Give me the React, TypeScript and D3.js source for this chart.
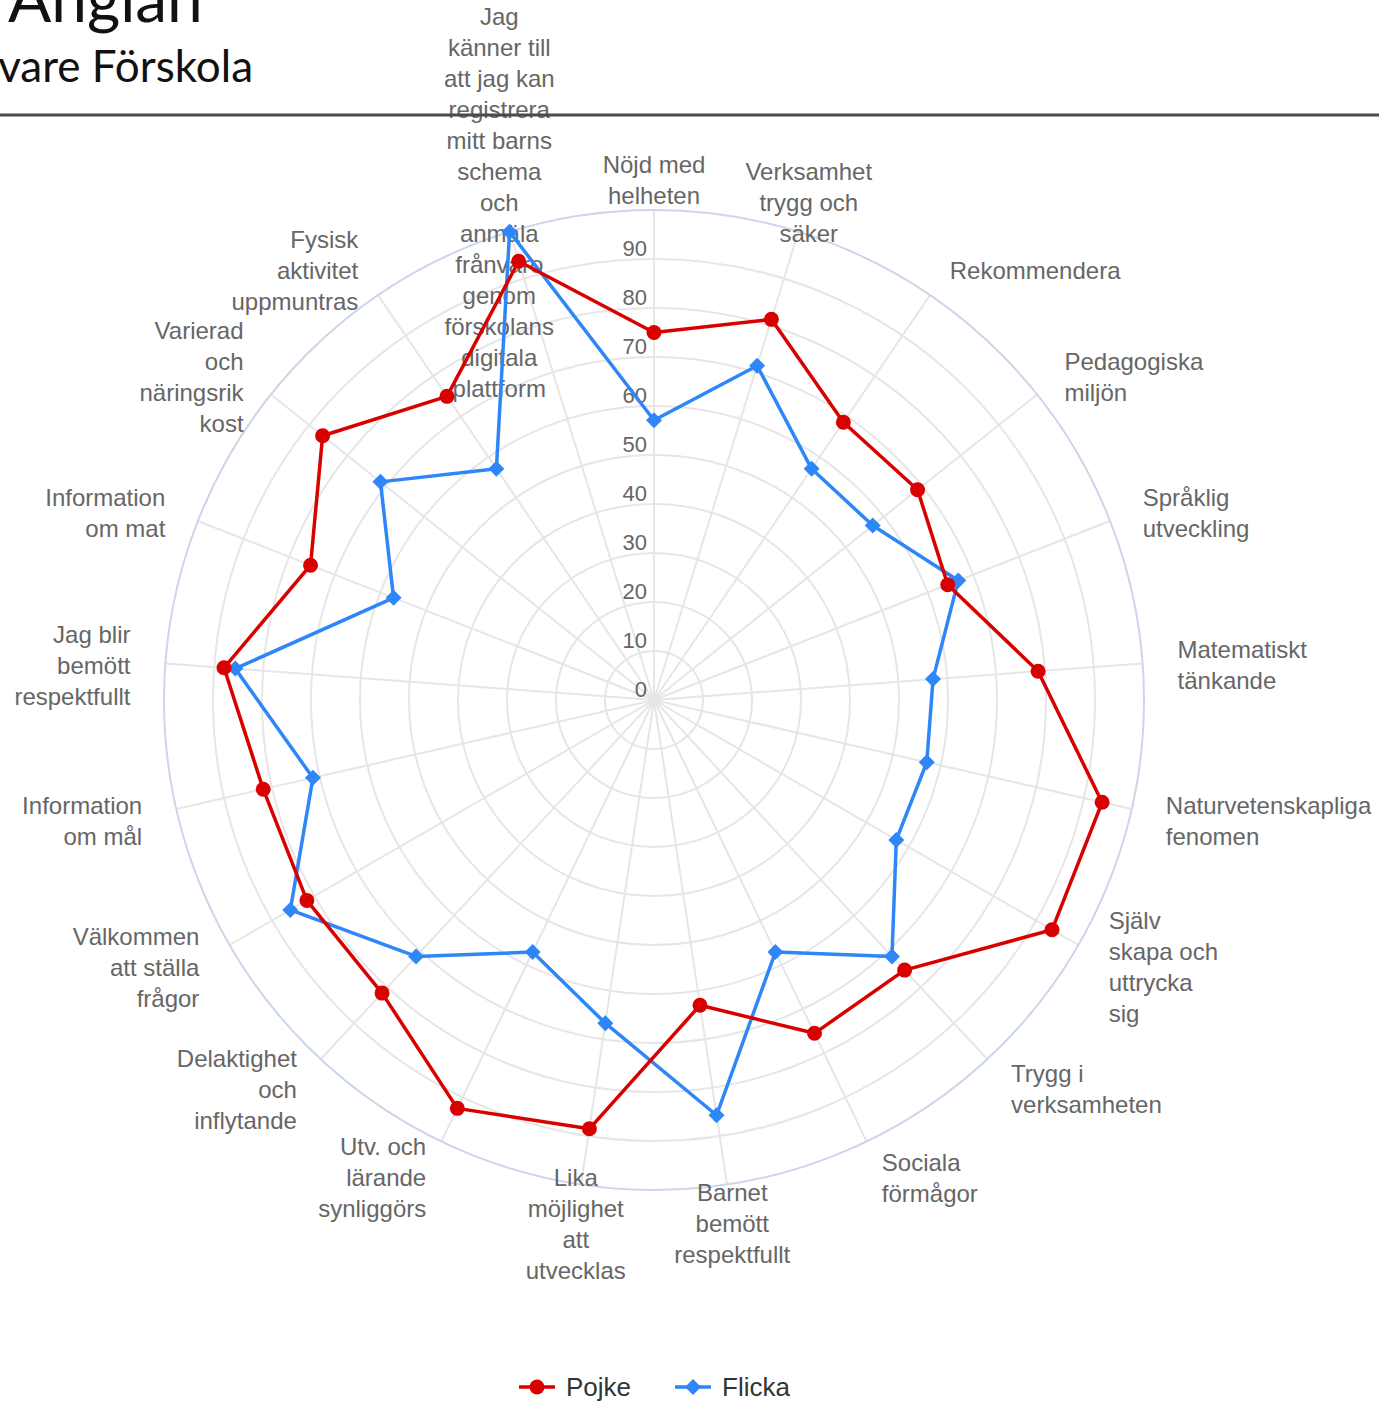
import React from "react";
import * as d3 from "d3";

// axis categories, already wrapped the way the chart shows them
const categories: string[][] = [
  ["Nöjd med", "helheten"],
  ["Verksamhet", "trygg och", "säker"],
  ["Rekommendera"],
  ["Pedagogiska", "miljön"],
  ["Språklig", "utveckling"],
  ["Matematiskt", "tänkande"],
  ["Naturvetenskapliga", "fenomen"],
  ["Själv", "skapa och", "uttrycka", "sig"],
  ["Trygg i", "verksamheten"],
  ["Sociala", "förmågor"],
  ["Barnet", "bemött", "respektfullt"],
  ["Lika", "möjlighet", "att", "utvecklas"],
  ["Utv. och", "lärande", "synliggörs"],
  ["Delaktighet", "och", "inflytande"],
  ["Välkommen", "att ställa", "frågor"],
  ["Information", "om mål"],
  ["Jag blir", "bemött", "respektfullt"],
  ["Information", "om mat"],
  ["Varierad", "och", "näringsrik", "kost"],
  ["Fysisk", "aktivitet", "uppmuntras"],
  ["Jag", "känner till", "att jag kan", "registrera", "mitt barns", "schema", "och", "anmäla", "frånvaro", "genom", "förskolans", "digitala", "plattform"],
];

const pojke = [75, 81.3, 68.6, 68.8, 64.4, 78.6, 93.8, 93.8, 75.2, 75.5, 63, 88.5, 92.5, 81.6, 81.8, 81.8, 88, 75.3, 86.5, 75, 93.7];
const flicka = [57.1, 71.4, 57.1, 57.1, 66.7, 57.1, 57.1, 57.1, 71.4, 57.1, 85.7, 66.7, 57.1, 71.4, 85.7, 71.4, 85.7, 57.1, 71.4, 57.1, 100];

const seriesNames = ["Pojke", "Flicka"];
const seriesColors = ["#d90000", "#2e86f8"];

const yTicks = [0, 10, 20, 30, 40, 50, 60, 70, 80, 90];
const gridValues = [10, 20, 30, 40, 50, 60, 70, 80, 90];

const W = 1379;
const H = 1402;
const cx = 654;
const cy = 700;
const R = 490;
const font = "'Liberation Sans', Arial, Helvetica, sans-serif";

const Marker = ({ kind, x, y, color }: { kind: number; x: number; y: number; color: string }) =>
  kind === 0 ? (
    <circle cx={x} cy={y} r={7.5} fill={color} />
  ) : (
    <path d={`M${x},${y - 8}L${x + 8},${y}L${x},${y + 8}L${x - 8},${y}Z`} fill={color} />
  );

export default function App() {
  const n = categories.length;
  const r = d3.scaleLinear().domain([0, 100]).range([0, R]);
  const angle = d3.scaleLinear().domain([0, n]).range([0, 2 * Math.PI]);
  const line = d3
    .lineRadial<number>()
    .angle((_, i) => angle(i))
    .radius((d) => r(d))
    .curve(d3.curveLinearClosed);
  const pos = (i: number, rad: number) => [Math.sin(angle(i)) * rad, -Math.cos(angle(i)) * rad];

  const series = [pojke, flicka];
  // blue is drawn under red
  const order = [1, 0];

  return (
    <svg width={W} height={H} style={{ position: "absolute", left: 0, top: 0, background: "#fff" }}>
      <text x={8} y={22} fontFamily="Lato, sans-serif" fontSize={64} fill="#111">
        Änglan
      </text>
      <text x={253} y={82} textAnchor="end" fontFamily="Lato, sans-serif" fontSize={44} fill="#111">
        Vårdnadshavare Förskola
      </text>

      <g transform={`translate(${cx},${cy})`}>
        {gridValues.map((v) => (
          <circle key={v} r={r(v)} fill="none" stroke="#e6e6e6" strokeWidth={2} />
        ))}
        {categories.map((_, i) => {
          const [x, y] = pos(i, r(100));
          return <line key={i} x1={0} y1={0} x2={x} y2={y} stroke="#e6e6e6" strokeWidth={2} />;
        })}
        <circle r={r(100)} fill="none" stroke="#ccd6eb" strokeWidth={2} />

        {yTicks.map((v) => (
          <text
            key={v}
            x={-7}
            y={-r(v) - 11 + 8}
            textAnchor="end"
            fontFamily={font}
            fontSize={22}
            fill="#666666"
          >
            {v}
          </text>
        ))}

        {categories.map((lines, i) => {
          const deg = (i * 360) / n;
          const anchor = deg > 20 && deg < 160 ? "start" : deg > 200 && deg < 340 ? "end" : "middle";
          const [x, y] = pos(i, R + 35);
          const first = y + 5 - ((lines.length - 1) * 31) / 2 + 8;
          return (
            <text key={i} textAnchor={anchor} fontFamily={font} fontSize={24} fill="#666666">
              {lines.map((t, k) => (
                <tspan key={k} x={x} y={first + k * 31}>
                  {t}
                </tspan>
              ))}
            </text>
          );
        })}

        {order.map((s) => (
          <g key={s}>
            <path d={line(series[s]) || ""} fill="none" stroke={seriesColors[s]} strokeWidth={3.5} strokeLinejoin="round" />
            {series[s].map((v, i) => {
              const [x, y] = pos(i, r(v));
              return <Marker key={i} kind={s} x={x} y={y} color={seriesColors[s]} />;
            })}
          </g>
        ))}
      </g>

      <line x1={0} x2={W} y1={115} y2={115} stroke="#4a4a4a" strokeWidth={3} />

      {seriesNames.map((name, s) => {
        const x0 = s === 0 ? 519 : 675;
        const ly = 1387;
        return (
          <g key={name}>
            <line x1={x0} x2={x0 + 36} y1={ly} y2={ly} stroke={seriesColors[s]} strokeWidth={3.5} />
            <Marker kind={s} x={x0 + 18} y={ly} color={seriesColors[s]} />
            <text x={x0 + 47} y={ly + 9} fontFamily={font} fontSize={26} fill="#333333">
              {name}
            </text>
          </g>
        );
      })}
    </svg>
  );
}
